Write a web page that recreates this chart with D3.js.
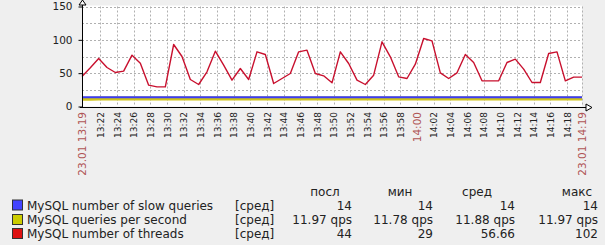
<!DOCTYPE html>
<html>
<head>
<meta charset="utf-8">
<script src="https://cdn.jsdelivr.net/npm/d3@7"></script>
<style>
  body { margin: 0; background: #efefef; }
  svg { display: block; font-family: "DejaVu Sans", sans-serif; }
</style>
</head>
<body>
<svg id="chart" width="605" height="245"></svg>
<script>
// data
let startTime = "2024-01-23 13:19:48";
let endTime = "2024-01-23 14:19:48";

let threads = [45, 58, 72, 58.5, 51, 53, 77, 65, 32, 29.5, 29.5, 93, 75, 40.5, 33, 52, 83, 62, 39.5, 57,
  40.5, 82, 78, 34.5, 42, 49.5, 82, 84.5, 49.5, 46, 35.5, 82, 64.5, 39.5, 33, 47, 97, 74.5, 44.5, 42,
  63.5, 102, 98.5, 50.5, 42, 50.5, 78, 66, 38.5, 38.5, 38.5, 66, 71, 56, 36, 36, 79.5, 82, 38.5, 44, 44];
let slowQueries = [14, 14, 14, 14, 14, 14, 14, 14, 14, 14, 14, 14, 14, 14, 14, 14, 14, 14, 14, 14,
  14, 14, 14, 14, 14, 14, 14, 14, 14, 14, 14, 14, 14, 14, 14, 14, 14, 14, 14, 14,
  14, 14, 14, 14, 14, 14, 14, 14, 14, 14, 14, 14, 14, 14, 14, 14, 14, 14, 14, 14, 14];
let qps = [11.78, 11.8, 11.82, 11.85, 11.83, 11.86, 11.88, 11.87, 11.85, 11.84, 11.86, 11.9, 11.89, 11.87, 11.85, 11.86, 11.88, 11.9, 11.88, 11.86,
  11.85, 11.87, 11.9, 11.89, 11.87, 11.86, 11.88, 11.9, 11.91, 11.89, 11.87, 11.88, 11.9, 11.89, 11.88, 11.87, 11.89, 11.91, 11.9, 11.89,
  11.88, 11.9, 11.92, 11.91, 11.9, 11.89, 11.9, 11.92, 11.93, 11.92, 11.91, 11.92, 11.94, 11.93, 11.92, 11.93, 11.95, 11.96, 11.95, 11.96, 11.97];

let yTicks = [0, 50, 100, 150];
let yGrid = [25, 50, 75, 100, 125, 150];
let xTickLabels = ["13:22", "13:24", "13:26", "13:28", "13:30", "13:32", "13:34", "13:36", "13:38", "13:40",
  "13:42", "13:44", "13:46", "13:48", "13:50", "13:52", "13:54", "13:56", "13:58", "14:00",
  "14:02", "14:04", "14:06", "14:08", "14:10", "14:12", "14:14", "14:16", "14:18"];
let highlightTicks = ["14:00"];
let edgeLabels = ["23.01 13:19", "23.01 14:19"];

let seriesNames = ["MySQL number of slow queries", "MySQL queries per second", "MySQL number of threads"];
let seriesColors = ["#3b3bf5", "#cfc31a", "#c8102e"];
let swatchColors = ["#4444ff", "#cccc00", "#dd1111"];
let statHeaders = ["посл", "мин", "сред", "макс"];
let statValues = [
  ["14", "14", "14", "14"],
  ["11.97 qps", "11.78 qps", "11.88 qps", "11.97 qps"],
  ["44", "29", "56.66", "102"]
];

let parse = d3.timeParse("%Y-%m-%d %H:%M:%S");
let t0 = parse(startTime);
let t1 = parse(endTime);
let times = threads.map((d, i) => d3.timeMinute.offset(t0, i));

let svg = d3.select("#chart");

let x = d3.scaleTime().domain([t0, t1]).range([82, 582]);
let y = d3.scaleLinear().domain([0, 150]).range([106.5, 6.5]);

// plot background
svg.append("rect")
  .attr("x", x.range()[0])
  .attr("y", y(150) - 1)
  .attr("width", x.range()[1] - x.range()[0])
  .attr("height", y(0) - y(150) + 1)
  .attr("fill", "#ffffff");

// grid
let tickTimes = xTickLabels.map(function(s) {
  return parse("2024-01-23 " + s + ":00");
});
svg.append("g")
  .selectAll("line")
  .data(tickTimes.concat([t1]))
  .enter()
  .append("line")
  .attr("x1", d => Math.round(x(d)) + 0.5)
  .attr("x2", d => Math.round(x(d)) + 0.5)
  .attr("y1", y(150))
  .attr("y2", y(0))
  .attr("stroke", "#b0b0b0")
  .attr("stroke-dasharray", "2,2");

svg.append("g")
  .selectAll("line")
  .data(yGrid)
  .enter()
  .append("line")
  .attr("x1", x.range()[0])
  .attr("x2", x.range()[1])
  .attr("y1", d => Math.round(y(d)) + 0.5)
  .attr("y2", d => Math.round(y(d)) + 0.5)
  .attr("stroke", "#b0b0b0")
  .attr("stroke-dasharray", "2,2");

// series
let line = d3.line()
  .x((d, i) => x(times[i]))
  .y(d => y(d));

svg.append("path")
  .datum(qps)
  .attr("d", line)
  .attr("fill", "none")
  .attr("stroke", seriesColors[1])
  .attr("stroke-width", 4);

svg.append("path")
  .datum(slowQueries)
  .attr("d", line)
  .attr("fill", "none")
  .attr("stroke", seriesColors[0])
  .attr("stroke-width", 2);

svg.append("path")
  .datum(threads)
  .attr("d", line)
  .attr("fill", "none")
  .attr("stroke", seriesColors[2])
  .attr("stroke-width", 1.4)
  .attr("stroke-linejoin", "round");

// y axis
let yAxis = d3.axisLeft(y)
  .tickValues(yTicks)
  .tickSize(4)
  .tickPadding(6);
let yG = svg.append("g")
  .attr("transform", "translate(82.5, 0)")
  .call(yAxis);
yG.select(".domain").remove();
yG.selectAll("text")
  .attr("font-size", "10.5px")
  .attr("font-family", "DejaVu Sans")
  .attr("fill", "#222");
yG.selectAll("line").attr("stroke", "#000");

svg.append("line")
  .attr("x1", 82.5).attr("x2", 82.5)
  .attr("y1", 2).attr("y2", y(0) + 1)
  .attr("stroke", "#000");
svg.append("path")
  .attr("d", "M79,5 L82.5,0 L86,5 Z")
  .attr("fill", "#fff")
  .attr("stroke", "#000");

// x axis
svg.append("line")
  .attr("x1", 80).attr("x2", 588)
  .attr("y1", 107.5).attr("y2", 107.5)
  .attr("stroke", "#000");
svg.append("path")
  .attr("d", "M586,104 L592,107.5 L586,111 Z")
  .attr("fill", "#fff")
  .attr("stroke", "#000");

let xg = svg.append("g");
xg.selectAll("text.tick")
  .data(xTickLabels)
  .enter()
  .append("text")
  .attr("class", "tick")
  .attr("transform", function(d, i) {
    let big = highlightTicks.indexOf(d) >= 0;
    return "translate(" + (x(tickTimes[i]) + (big ? 4 : 3.5)) + ",112) rotate(-90)";
  })
  .attr("text-anchor", "end")
  .attr("font-size", d => highlightTicks.indexOf(d) >= 0 ? "10.5px" : "9px")
  .attr("fill", d => highlightTicks.indexOf(d) >= 0 ? "#b05555" : "#222")
  .text(d => d);

xg.selectAll("text.edge")
  .data(edgeLabels)
  .enter()
  .append("text")
  .attr("class", "edge")
  .attr("transform", function(d, i) {
    return "translate(" + (x([t0, t1][i]) + 4) + ",112) rotate(-90)";
  })
  .attr("text-anchor", "end")
  .attr("font-size", "10.5px")
  .attr("fill", "#b05555")
  .text(d => d);

// legend
let rowY = [209.5, 224, 238];
let colRight = [352, 433, 515, 598];
let headCenter = [325, 400, 477, 577];

let legend = svg.append("g")
  .attr("font-size", "12px")
  .attr("fill", "#222");

legend.selectAll("text.head")
  .data(statHeaders)
  .enter()
  .append("text")
  .attr("class", "head")
  .attr("x", (d, i) => headCenter[i])
  .attr("y", 196)
  .attr("text-anchor", "middle")
  .text(d => d);

seriesNames.forEach(function(name, i) {
  legend.append("rect")
    .attr("x", 12.5)
    .attr("y", rowY[i] - 9.5)
    .attr("width", 10)
    .attr("height", 10)
    .attr("fill", swatchColors[i])
    .attr("stroke", "#333");
  legend.append("text")
    .attr("x", 27)
    .attr("y", rowY[i])
    .text(name);
  legend.append("text")
    .attr("x", 235)
    .attr("y", rowY[i])
    .text("[сред]");
  legend.selectAll("text.v" + i)
    .data(statValues[i])
    .enter()
    .append("text")
    .attr("class", "v" + i)
    .attr("x", (d, j) => colRight[j])
    .attr("y", rowY[i])
    .attr("text-anchor", "end")
    .text(d => d);
});
</script>
</body>
</html>
